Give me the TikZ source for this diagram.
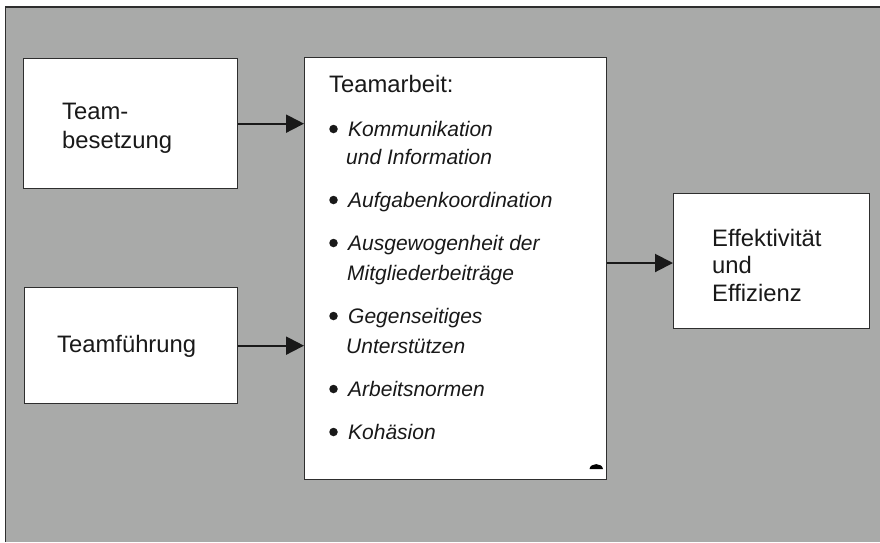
\documentclass[tikz,border=0pt]{standalone}
\usepackage{fontspec}
\setmainfont{Liberation Sans}
\usetikzlibrary{arrows.meta}
\definecolor{bggray}{HTML}{A9AAA9}
\definecolor{edge}{HTML}{2E2E2E}
\tikzset{
  box/.style={draw=edge, line width=1.3pt, fill=white, anchor=north west, inner sep=0pt},
  arr/.style={draw=black!90, line width=2pt, -{Triangle[length=18pt,width=18pt]}},
  big/.style={anchor=base west, inner sep=0pt, font=\fontsize{23.8pt}{27pt}\selectfont, text=black!90},
  item/.style={anchor=base west, inner sep=0pt, font=\fontsize{21pt}{25pt}\selectfont\itshape, text=black!90},
  bul/.style={circle, fill=black!90, inner sep=0pt, minimum size=8.5pt},
}
\begin{document}
\begin{tikzpicture}[x=1pt,y=-1pt]
\useasboundingbox (0,0) rectangle (880,542);
\fill[bggray] (5.5,7) rectangle (880,542);
\draw[edge, line width=1.6pt] (5.5,542) -- (5.5,7) -- (880,7);

\node[box, minimum width=214pt, minimum height=130pt] (b1) at (23,58) {};
\node[box, minimum width=213pt, minimum height=116pt] (b2) at (24,287) {};
\node[box, minimum width=302pt, minimum height=422pt] (b3) at (304,57) {};
\node[box, minimum width=196pt, minimum height=135pt] (b4) at (673,193) {};

\draw[arr] (b1.east) -- (b3.west |- b1.east);
\draw[arr] (b2.east) -- (b3.west |- b2.east);
\draw[arr] (b3.east |- 0,263) -- (b4.west |- 0,263);

\node[big] (t1a) at (62,119) {Team-};
\node[big] (t1b) at (62,148) {besetzung};
\node[big] (t2) at (57,352) {Teamführung};
\node[big] (t4a) at (712,246) {Effektivität};
\node[big] (t4b) at (712,273) {und};
\node[big] (t4c) at (712,301) {Effizienz};

\node[big] (t3) at (329,92) {Teamarbeit:};
\node[bul] (p1) at (333.5,129) {};
\node[item] (i1a) at (348,136) {Kommunikation};
\node[item] (i1b) at (346,164) {und Information};
\node[bul] (p2) at (333.5,200) {};
\node[item] (i2) at (348,207) {Aufgabenkoordination};
\node[bul] (p3) at (333.5,243) {};
\node[item] (i3a) at (348,250) {Ausgewogenheit der};
\node[item] (i3b) at (347,280) {Mitgliederbeiträge};
\node[bul] (p4) at (333.5,316) {};
\node[item] (i4a) at (348,323) {Gegenseitiges};
\node[item] (i4b) at (346,353) {Unterstützen};
\node[bul] (p5) at (333.5,389) {};
\node[item] (i5) at (348,396) {Arbeitsnormen};
\node[bul] (p6) at (333.5,432) {};
\node[item] (i6) at (348,439) {Kohäsion};

\fill[black] (589.5,469) .. controls (590.5,462.5) and (602,462.5) .. (603,469) -- cycle;
\end{tikzpicture}
\end{document}
